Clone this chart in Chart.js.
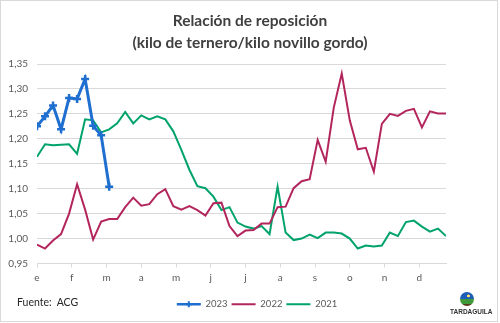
<!DOCTYPE html>
<html>
<head>
<meta charset="utf-8">
<script src="https://cdn.jsdelivr.net/npm/chart.js@4/dist/chart.umd.min.js"></script>
<style>
  body { margin: 0; background: #fff; }
  #wrap { position: relative; width: 500px; height: 323px; font-family: Lato, sans-serif; }
  #frame { position: absolute; left: 0; top: 0; width: 498px; height: 322px; box-sizing: border-box; border: 1px solid #d9d9d9; pointer-events: none; }
  #title { position: absolute; left: 0; top: 9px; width: 500px; text-align: center; font-size: 15.5px; font-weight: bold; line-height: 22px; color: #404040; }
  #source { position: absolute; left: 17px; top: 296px; font-size: 10.5px; color: #262626; white-space: pre; }
  #logo { position: absolute; left: 450px; top: 292px; width: 38px; text-align: center; }
  #globe { width: 14px; height: 14px; margin: 0 0 0 10px; border-radius: 50%;
           background: radial-gradient(circle at 60% 28%, #ffe066 0 9%, transparent 13%),
                       linear-gradient(#1d5fb8 0 52%, #3f9a3a 52% 84%, #5a3a1a 84%); }
  #brand { font-size: 6.5px; font-weight: bold; color: #333; margin-top: 2px; font-family: "Liberation Sans", sans-serif; line-height: 7px; }
</style>
</head>
<body>
<div id="wrap">
  <canvas id="chart" width="500" height="323"></canvas>
  <div id="title">Relación de reposición<br>(kilo de ternero/kilo novillo gordo)</div>
  <div id="source">Fuente:  ACG</div>
  <div id="logo"><div id="globe"></div><div id="brand">TARDAGUILA</div></div>
  <div id="frame"></div>
</div>
<script>
const months = ["e", "f", "m", "a", "m", "j", "j", "a", "s", "o", "n", "d"];
const weeksPerYear = 52;

const values2023 = [1.225, 1.245, 1.267, 1.219, 1.282, 1.280, 1.320, 1.226, 1.207, 1.104];

const values2022 = [0.988, 0.980, 0.996, 1.009, 1.050, 1.109, 1.058, 0.998, 1.034, 1.039,
  1.039, 1.063, 1.082, 1.066, 1.069, 1.089, 1.099, 1.065, 1.058, 1.065,
  1.057, 1.046, 1.071, 1.072, 1.025, 1.005, 1.016, 1.017, 1.030, 1.030,
  1.063, 1.064, 1.101, 1.115, 1.119, 1.198, 1.154, 1.262, 1.331, 1.237,
  1.179, 1.182, 1.134, 1.230, 1.250, 1.246, 1.256, 1.260, 1.223, 1.255,
  1.251, 1.251];

const values2021 = [1.164, 1.189, 1.187, 1.188, 1.189, 1.170, 1.239, 1.237, 1.213, 1.219,
  1.231, 1.254, 1.231, 1.247, 1.239, 1.245, 1.239, 1.215, 1.178, 1.138,
  1.105, 1.101, 1.084, 1.057, 1.063, 1.032, 1.024, 1.020, 1.025, 1.009,
  1.104, 1.012, 0.997, 1.000, 1.008, 1.001, 1.012, 1.012, 1.010, 1.000,
  0.980, 0.986, 0.984, 0.986, 1.012, 1.005, 1.033, 1.036, 1.024, 1.014,
  1.020, 1.005];

const toPoints = arr => arr.map((v, i) => ({ x: i, y: v }));

const gridColor = "#d9d9d9";
const textColor = "#595959";

// nudges the legend a bit to the right, and draws the blue marker on its first line
const legendTweaks = {
  id: "legendTweaks",
  afterLayout(chart) {
    chart.legend.left += 14;
  },
  afterDraw(chart) {
    const box = chart.legend.legendHitBoxes[0];
    if (!box) return;
    const ctx = chart.ctx;
    const cx = box.left + 12, cy = box.top + box.height / 2;
    ctx.save();
    ctx.strokeStyle = "#1f6fd0";
    ctx.lineWidth = 2;
    ctx.beginPath();
    ctx.moveTo(cx - 3, cy); ctx.lineTo(cx + 3, cy);
    ctx.moveTo(cx, cy - 3); ctx.lineTo(cx, cy + 3);
    ctx.stroke();
    ctx.restore();
  }
};

new Chart(document.getElementById("chart"), {
  type: "line",
  data: {
    datasets: [
      {
        label: "2023",
        data: toPoints(values2023),
        borderColor: "#1f6fd0",
        backgroundColor: "#1f6fd0",
        borderWidth: 3,
        pointStyle: "cross",
        pointRadius: 4,
        pointBorderWidth: 2.5,
        tension: 0
      },
      {
        label: "2022",
        data: toPoints(values2022),
        borderColor: "#b3265d",
        backgroundColor: "#b3265d",
        borderWidth: 2,
        pointRadius: 0,
        tension: 0
      },
      {
        label: "2021",
        data: toPoints(values2021),
        borderColor: "#00a36a",
        backgroundColor: "#00a36a",
        borderWidth: 2,
        pointRadius: 0,
        tension: 0
      }
    ]
  },
  options: {
    responsive: false,
    animation: false,
    layout: { padding: { left: 0, right: 0, top: 64, bottom: 4 } },
    plugins: {
      tooltip: { enabled: false },
      title: { display: false },
      legend: {
        position: "bottom",
        labels: {
          usePointStyle: true,
          pointStyle: "line",
          pointStyleWidth: 24,
          boxHeight: 10,
          padding: 4,
          color: textColor,
          font: { family: "Lato", size: 9.5 }
        }
      }
    },
    scales: {
      x: {
        type: "linear",
        min: 0,
        max: weeksPerYear - 1,
        afterBuildTicks: scale => {
          scale.ticks = months.map((m, k) => ({ value: k * weeksPerYear / 12 }));
        },
        afterFit: scale => { scale.height = 32; },
        grid: { drawOnChartArea: false, drawTicks: true, tickLength: 4, color: gridColor },
        border: { color: gridColor },
        ticks: {
          autoSkip: false,
          maxRotation: 0,
          padding: 4,
          color: textColor,
          font: { family: "Lato", size: 10 },
          callback: (value, index) => months[index]
        }
      },
      y: {
        min: 0.95,
        max: 1.35,
        afterFit: scale => { scale.width = 37; },
        grid: { color: gridColor, drawTicks: false },
        border: { display: false },
        ticks: {
          stepSize: 0.05,
          padding: 9,
          color: textColor,
          font: { family: "Lato", size: 10 },
          callback: v => v.toFixed(2).replace(".", ",")
        }
      },
      // empty right-hand axis that reserves the space beside the plot
      yRight: {
        position: "right",
        afterFit: scale => { scale.width = 54; },
        grid: { display: false },
        border: { display: false },
        ticks: { display: false }
      }
    }
  },
  plugins: [legendTweaks]
});
</script>
</body>
</html>
